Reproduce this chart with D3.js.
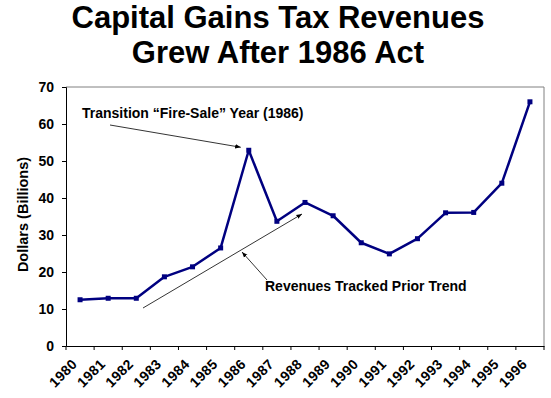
<!DOCTYPE html>
<html>
<head>
<meta charset="utf-8">
<script src="https://cdn.jsdelivr.net/npm/d3@7"></script>
<style>
  body { margin: 0; background: #fff; }
  text { font-family: Arial, "Liberation Sans", sans-serif; }
</style>
</head>
<body>
<svg width="551" height="398"></svg>
<script>
const years = ['1980', '1981', '1982', '1983', '1984', '1985', '1986', '1987', '1988',
  '1989', '1990', '1991', '1992', '1993', '1994', '1995', '1996'];
const revenues = [12.5, 12.9, 12.9, 18.7, 21.4, 26.5, 52.9, 33.7, 38.8,
  35.2, 27.9, 24.9, 29.0, 36.0, 36.1, 44.0, 66.0];
const yTicks = [0, 10, 20, 30, 40, 50, 60, 70];

const svg = d3.select('svg');
const margin = { top: 87, right: 7, bottom: 52, left: 66 };
const width = +svg.attr('width') - margin.left - margin.right;
const height = +svg.attr('height') - margin.top - margin.bottom;

const x = d3.scaleBand().domain(years).range([0, width]);
const y = d3.scaleLinear().domain([0, 70]).range([height, 0]);

// title
svg.append('text')
  .attr('x', 278).attr('y', 28)
  .attr('text-anchor', 'middle')
  .attr('font-size', 31).attr('font-weight', 'bold')
  .text('Capital Gains Tax Revenues');
svg.append('text')
  .attr('x', 278).attr('y', 63)
  .attr('text-anchor', 'middle')
  .attr('font-size', 31).attr('font-weight', 'bold')
  .text('Grew After 1986 Act');

const g = svg.append('g')
  .attr('transform', `translate(${margin.left},${margin.top})`);

// plot area frame (top, right)
g.append('path')
  .attr('d', `M0,0H${width}V${height}`)
  .attr('fill', 'none')
  .attr('stroke', '#808080');

const yAxis = g.append('g')
  .call(d3.axisLeft(y).tickValues(yTicks).tickSize(4).tickPadding(8));
yAxis.selectAll('text')
  .attr('font-size', 14).attr('font-weight', 'bold').attr('fill', '#000');
yAxis.selectAll('line, path').attr('stroke', '#000');

const xAxis = g.append('g')
  .attr('transform', `translate(0,${height})`)
  .call(d3.axisBottom(x).tickSize(0).tickFormat(''));
xAxis.selectAll('path').attr('stroke', '#000');

// tick marks on category boundaries
g.append('g').selectAll('line')
  .data(years.concat(['end']))
  .join('line')
    .attr('x1', (d, i) => i * x.step())
    .attr('x2', (d, i) => i * x.step())
    .attr('y1', height).attr('y2', height + 4)
    .attr('stroke', '#000');

g.append('g').selectAll('text')
  .data(years)
  .join('text')
    .attr('transform', d => `translate(${x(d) + x.bandwidth() / 2 - 2},${height + 19}) rotate(-45)`)
    .attr('text-anchor', 'end')
    .attr('font-size', 14).attr('font-weight', 'bold')
    .attr('letter-spacing', 0.4)
    .text(d => d);

svg.append('text')
  .attr('transform', `translate(28,${margin.top + height / 2 - 2}) rotate(-90)`)
  .attr('text-anchor', 'middle')
  .attr('font-size', 14.5).attr('font-weight', 'bold')
  .text('Dollars (Billions)');

const line = d3.line()
  .x((d, i) => x(years[i]) + x.bandwidth() / 2)
  .y(d => y(d));

g.append('path')
  .datum(revenues)
  .attr('fill', 'none')
  .attr('stroke', '#000080')
  .attr('stroke-width', 2.5)
  .attr('stroke-linejoin', 'round')
  .attr('d', line);

g.selectAll('rect.pt')
  .data(revenues)
  .join('rect')
    .attr('class', 'pt')
    .attr('x', (d, i) => x(years[i]) + x.bandwidth() / 2 - 2.5)
    .attr('y', d => y(d) - 2.5)
    .attr('width', 5).attr('height', 5)
    .attr('fill', '#000080');

// annotations
const defs = svg.append('defs');
defs.append('marker')
  .attr('id', 'arrow')
  .attr('viewBox', '0 0 10 10')
  .attr('refX', 10).attr('refY', 5)
  .attr('markerWidth', 7).attr('markerHeight', 7)
  .attr('orient', 'auto')
  .append('path')
    .attr('d', 'M0,1L10,5L0,9Z')
    .attr('fill', '#000');

const px = i => margin.left + x(years[i]) + x.bandwidth() / 2;
const py = v => margin.top + y(v);

svg.append('text')
  .attr('x', 82).attr('y', 118)
  .attr('font-size', 14).attr('font-weight', 'bold')
  .text('Transition \u201cFire-Sale\u201d Year (1986)');

svg.append('line')
  .attr('x1', 110).attr('y1', 125)
  .attr('x2', px(6) - 8).attr('y2', py(revenues[6]) - 3)
  .attr('stroke', '#000').attr('stroke-width', 0.8)
  .attr('marker-end', 'url(#arrow)');

svg.append('text')
  .attr('x', 265).attr('y', 291)
  .attr('font-size', 14).attr('font-weight', 'bold')
  .text('Revenues Tracked Prior Trend');

// trend line
svg.append('line')
  .attr('x1', 143).attr('y1', 308)
  .attr('x2', 302).attr('y2', 214)
  .attr('stroke', '#000').attr('stroke-width', 0.8)
  .attr('marker-end', 'url(#arrow)');

svg.append('line')
  .attr('x1', 267).attr('y1', 280)
  .attr('x2', 242).attr('y2', 252)
  .attr('stroke', '#000').attr('stroke-width', 0.8)
  .attr('marker-end', 'url(#arrow)');
</script>
</body>
</html>
